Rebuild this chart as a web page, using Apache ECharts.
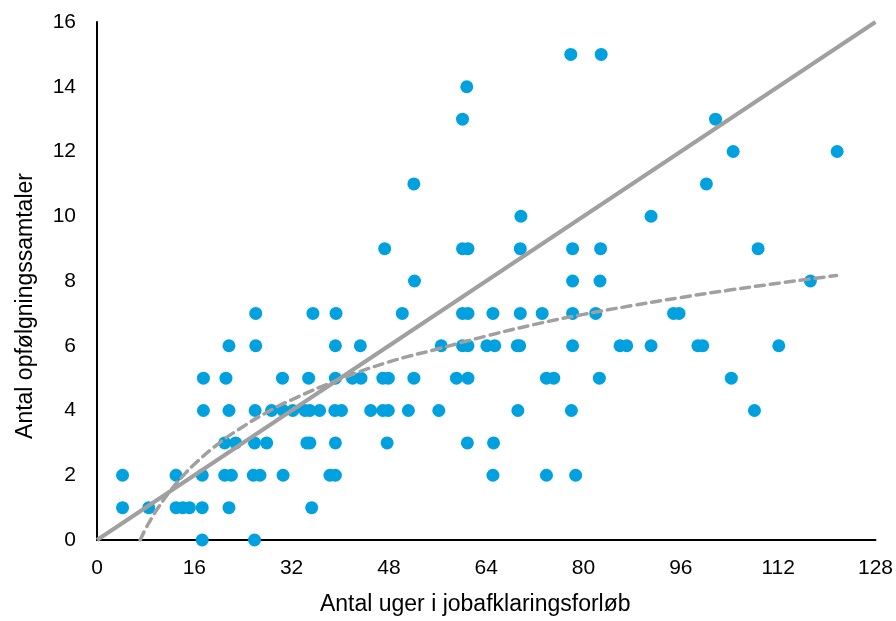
<!DOCTYPE html>
<html>
<head>
<meta charset="utf-8">
<script src="https://cdn.jsdelivr.net/npm/echarts@6/dist/echarts.min.js"></script>
<style>
  html, body { margin: 0; padding: 0; background: #fff; }
  #chart { width: 896px; height: 621px; }
</style>
</head>
<body>
<div id="chart"></div>
<script>
// weeks (x) grouped by number of follow-up talks (y)
var weeksAt0 = [17.3, 25.9]
var weeksAt1 = [4.2, 8.5, 13, 14.1, 15.2, 17.3, 21.7, 35.3]
var weeksAt2 = [4.2, 13, 17.3, 21, 22.1, 25.7, 26.8, 30.6, 38.3, 39.2, 65.1, 73.9, 78.7]
var weeksAt3 = [21, 22.8, 25.9, 27.9, 34.5, 35.0, 39.2, 47.7, 60.9, 65.2]
var weeksAt4 = [17.5, 21.7, 26, 28.7, 30.6, 32.2, 34.2, 35.0, 36.6, 39.1, 40.2, 45.0, 47.0, 47.9, 51.2, 56.2, 69.2, 78.0, 108.1]
var weeksAt5 = [17.5, 21.2, 30.5, 34.8, 39.2, 42.0, 43.4, 47.0, 47.9, 52.1, 59.1, 61.0, 73.9, 75.1, 82.6, 104.3]
var weeksAt6 = [21.7, 26.1, 39.2, 43.3, 56.6, 60.1, 61.0, 64.1, 65.4, 69.1, 69.5, 78.2, 86.0, 87.1, 91.1, 98.8, 99.6, 112.1]
var weeksAt7 = [26.1, 35.5, 39.3, 50.2, 60.1, 61.0, 65.1, 69.6, 73.2, 78.2, 82.0, 94.8, 95.7]
var weeksAt8 = [52.2, 78.2, 82.7, 117.3]
var weeksAt9 = [47.3, 60.1, 61.0, 69.6, 78.2, 82.8, 108.7]
var weeksAt10 = [69.7, 91.1]
var weeksAt11 = [52.1, 100.2]
var weeksAt12 = [104.6, 121.7]
var weeksAt13 = [60.1, 101.7]
var weeksAt14 = [60.8]
var weeksAt15 = [77.9, 82.9]

// trend lines
var linearTrend = [[0, 0], [128, 16]]
var logTrend = [
  [7.1, 0], [8, 0.35], [9, 0.68], [10, 0.98], [12, 1.51], [14, 1.95], [16, 2.34],
  [20, 2.98], [24, 3.5], [28, 3.95], [32, 4.33], [40, 4.97], [48, 5.5], [56, 5.9],
  [64, 6.3], [72, 6.66], [80, 6.97], [88, 7.24], [96, 7.49], [104, 7.72],
  [112, 7.93], [121.6, 8.17]
]

var xTicks = [0, 16, 32, 48, 64, 80, 96, 112, 128]
var yTicks = [0, 2, 4, 6, 8, 10, 12, 14, 16]

var groups = [weeksAt0, weeksAt1, weeksAt2, weeksAt3, weeksAt4, weeksAt5, weeksAt6, weeksAt7,
  weeksAt8, weeksAt9, weeksAt10, weeksAt11, weeksAt12, weeksAt13, weeksAt14, weeksAt15]
var points = []
groups.forEach(function(list, talks) {
  list.forEach(function(w) {
    points.push([w, talks])
  })
})

var font = 'Liberation Sans, Arial, sans-serif'
var chart = echarts.init(document.getElementById('chart'))
chart.setOption({
  animation: false,
  grid: { left: 97, right: 20, top: 22, bottom: 77 },
  xAxis: {
    type: 'value',
    min: xTicks[0],
    max: xTicks[xTicks.length - 1],
    interval: 16,
    name: 'Antal uger i jobafklaringsforløb',
    nameLocation: 'middle',
    nameGap: 53,
    nameTextStyle: { color: '#000', fontSize: 23, fontFamily: font, padding: [0, 22, 0, 0] },
    axisLine: { lineStyle: { color: '#000', width: 2 } },
    axisTick: { show: false },
    splitLine: { show: false },
    axisLabel: { color: '#000', fontSize: 21, fontFamily: font, margin: 18 }
  },
  yAxis: {
    type: 'value',
    min: yTicks[0],
    max: yTicks[yTicks.length - 1],
    interval: 2,
    name: 'Antal opfølgningssamtaler',
    nameLocation: 'middle',
    nameGap: 60,
    nameTextStyle: { color: '#000', fontSize: 23, fontFamily: font, padding: [0, 50, 0, 0] },
    axisLine: { show: true, lineStyle: { color: '#000', width: 2 } },
    axisTick: { show: false },
    splitLine: { show: false },
    axisLabel: { color: '#000', fontSize: 21, fontFamily: font, margin: 21 }
  },
  series: [
    {
      type: 'scatter',
      data: points,
      symbolSize: 13,
      itemStyle: { color: '#00A1DE', opacity: 1 },
      z: 2
    },
    {
      type: 'line',
      data: linearTrend,
      symbol: 'none',
      lineStyle: { color: '#A0A0A0', width: 4 },
      z: 3
    },
    {
      type: 'line',
      data: logTrend,
      smooth: true,
      symbol: 'none',
      lineStyle: { color: '#A0A0A0', width: 3.5, type: [9, 6], cap: 'round' },
      z: 3
    }
  ]
})
</script>
</body>
</html>
